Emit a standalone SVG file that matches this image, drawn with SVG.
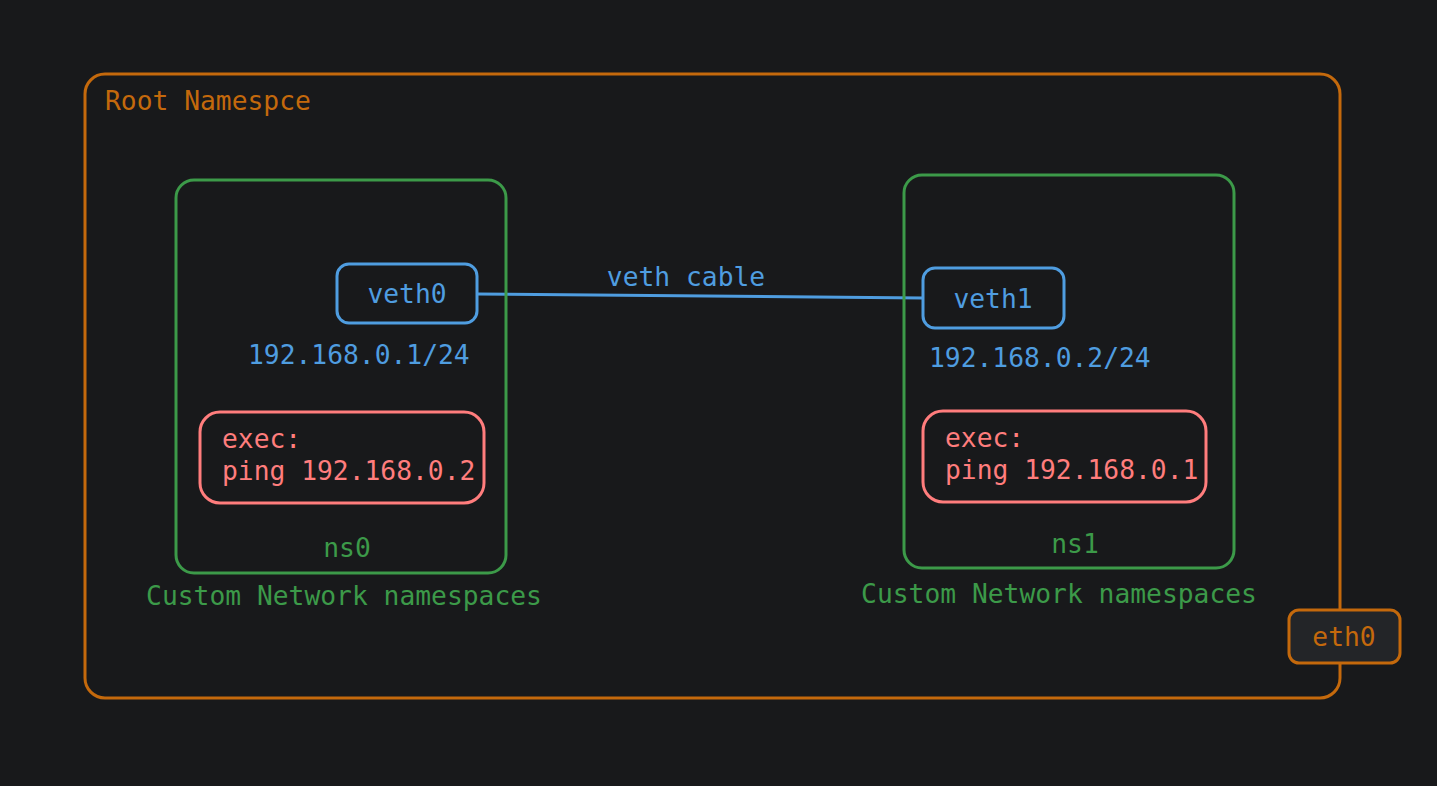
<svg xmlns="http://www.w3.org/2000/svg" width="1437" height="786" viewBox="0 0 1437 786">
<style>
text{font-family:"DejaVu Sans Mono","Liberation Mono",monospace;font-size:26.3px}
.or{stroke:#c4690c}.gr{stroke:#3c9a49}.bl{stroke:#4f9de0}.rd{stroke:#ff7d7d}
.box{fill:none;stroke-width:3;stroke-linecap:round;stroke-linejoin:round}
.tor{fill:#c4690c}.tgr{fill:#3c9a49}.tbl{fill:#4f9de0}.trd{fill:#ff7d7d}
</style>
<rect width="1437" height="786" fill="#18191b"/>
<g id="root-namespace">
<rect class="box or" x="85" y="74" width="1255" height="624" rx="20"/>
<text class="tor" x="105" y="110">Root Namespce</text>
</g>
<g id="connectors">
<path d="M477 294 L923 298" fill="none" stroke="#4f9de0" stroke-width="3"/>
<text class="tbl" x="686" y="286" text-anchor="middle">veth cable</text>
</g>
<g id="ns0">
<rect class="box gr" x="176" y="180" width="330" height="393" rx="18"/>
<text class="tgr" x="347" y="557" text-anchor="middle">ns0</text>
<text class="tgr" x="344" y="605" text-anchor="middle">Custom Network namespaces</text>
</g>
<g id="veth0">
<rect class="box bl" x="337" y="264" width="140" height="59" rx="12"/>
<text class="tbl" x="407" y="303" text-anchor="middle">veth0</text>
<text class="tbl" x="248" y="364">192.168.0.1/24</text>
</g>
<g id="exec0">
<rect class="box rd" x="200" y="412" width="284" height="91" rx="20"/>
<text class="trd" x="222" y="448">exec:</text>
<text class="trd" x="222" y="480">ping 192.168.0.2</text>
</g>
<g id="ns1">
<rect class="box gr" x="904" y="175" width="330" height="393" rx="18"/>
<text class="tgr" x="1075" y="553" text-anchor="middle">ns1</text>
<text class="tgr" x="1059" y="603" text-anchor="middle">Custom Network namespaces</text>
</g>
<g id="veth1">
<rect class="box bl" x="923" y="268" width="141" height="60" rx="12"/>
<text class="tbl" x="993" y="308" text-anchor="middle">veth1</text>
<text class="tbl" x="929" y="367">192.168.0.2/24</text>
</g>
<g id="exec1">
<rect class="box rd" x="923" y="411" width="283" height="91" rx="20"/>
<text class="trd" x="945" y="447">exec:</text>
<text class="trd" x="945" y="479">ping 192.168.0.1</text>
</g>
<g id="eth0">
<rect class="box or" x="1289" y="610" width="111" height="53" rx="10" style="fill:#232528"/>
<text class="tor" x="1344" y="646" text-anchor="middle">eth0</text>
</g>
</svg>
